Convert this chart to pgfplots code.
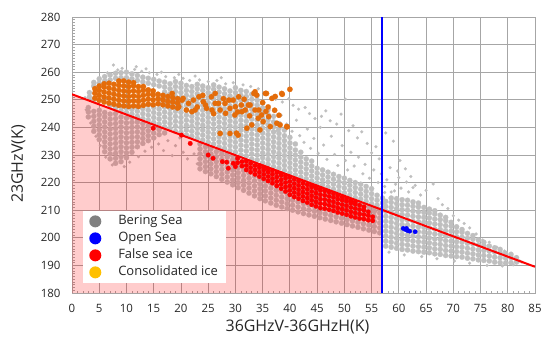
\documentclass[border=0pt]{standalone}
\usepackage{pgfplots}
\pgfplotsset{compat=1.18}
\usepackage{fontspec}
\setmainfont{Open Sans}
\definecolor{cgray}{RGB}{191,191,191}
\definecolor{corange}{RGB}{228,108,10}
\definecolor{cred}{RGB}{255,0,0}
\definecolor{cblue}{RGB}{0,0,255}
\definecolor{lgray}{RGB}{128,128,128}
\definecolor{lyellow}{RGB}{255,192,0}
\definecolor{gridc}{RGB}{166,166,166}
\definecolor{txt}{RGB}{38,38,38}
\begin{document}
\begin{tikzpicture}
\begin{axis}[
  width=463bp, height=276bp, scale only axis,
  xmin=0, xmax=85, ymin=180, ymax=280,
  xtick={0,5,...,85}, ytick={180,190,...,280},
  minor x tick num=4, minor y tick num=9,
  tick pos=left, tick align=inside,
  major tick length=0bp, minor tick length=2.5bp,
  every tick/.style={gridc, line width=0.6bp},
  grid=major, major grid style={gridc, line width=0.8bp},
  axis line style={gridc, line width=0.8bp},
  /pgf/number format/assume math mode=true,
  ticklabel style={font=\fontsize{11.5}{13}\selectfont, text=txt},
  yticklabel style={xshift=-8bp},
  xticklabel style={yshift=-8bp},
  xlabel={36GHzV-36GHzH(K)}, ylabel={23GHzV(K)},
  xlabel style={font=\fontsize{16}{18}\selectfont, text=txt, at={(axis description cs:0.487,-0.1214)}, anchor=center},
  ylabel style={font=\fontsize{16}{18}\selectfont, text=txt, at={(axis description cs:-0.1156,0.467)}, anchor=center},
  legend image code/.code={\fill[#1] (0bp,0bp) circle (6bp);},
  legend style={at={(rel axis cs:0.024,0.036)}, anchor=south west, draw=none, fill=white,
    font=\fontsize{13}{15}\selectfont, text=txt, inner xsep=6bp, inner ysep=2bp, row sep=0bp,
    nodes={text height=10bp, text depth=3bp, inner sep=2bp},
    cells={anchor=west},
    /tikz/every odd column/.append style={column sep=15bp}},
  clip=true, clip marker paths=true,
]
% ---------------- gray, dense ----------------
\addplot[only marks, mark=*, mark size=2.6bp, color=cgray, mark options={draw=cgray, fill=cgray, line width=0.2bp}, forget plot] coordinates {
(3.2,251.0)(3.2,252.6)
(4.0,250.0)(4.0,255.0)(4.0,256.3)
(5.0,256.0)(5.0,257.6)
(6.0,256.8)(6.0,258.4)
(7.0,257.2)(7.0,259.0)(7.0,248.0)
(8.0,257.8)(8.0,259.6)(8.0,247.0)
(9.0,258.0)(9.0,259.8)(9.0,246.0)(9.0,247.6)
(10.0,258.0)(10.0,260.0)(10.0,245.4)(10.0,247.0)
(11.0,257.6)(11.0,259.4)(11.0,244.8)(11.0,246.5)
(12.0,257.0)(12.0,258.8)(12.0,244.0)(12.0,245.8)(12.0,247.4)
(13.0,256.5)(13.0,258.2)(13.0,243.2)(13.0,245.0)(13.0,246.8)
(14.0,256.0)(14.0,257.8)(14.0,242.6)(14.0,244.4)(14.0,246.2)(14.0,248.0)
(15.0,255.5)(15.0,257.4)(15.0,241.8)(15.0,243.6)(15.0,245.4)(15.0,247.2)
(16.0,241.2)(16.0,243.0)(16.0,244.8)(16.0,246.6)(16.0,248.4)(16.0,250.2)(16.0,255.0)(16.0,256.8)
(17.0,240.2)(17.0,242.0)(17.0,243.8)(17.0,245.6)(17.0,247.4)(17.0,249.2)(17.0,251.0)(17.0,252.8)(17.0,254.6)(17.0,256.4)
(18.0,239.6)(18.0,241.4)(18.0,243.2)(18.0,245.0)(18.0,246.8)(18.0,248.6)(18.0,250.4)(18.0,252.2)(18.0,254.0)(18.0,255.8)
(19.0,238.6)(19.0,240.4)(19.0,242.2)(19.0,244.0)(19.0,245.8)(19.0,247.6)(19.0,249.4)(19.0,251.2)(19.0,253.0)(19.0,254.8)(19.0,256.6)
(20.0,238.2)(20.0,240.0)(20.0,241.8)(20.0,243.6)(20.0,245.4)(20.0,247.2)(20.0,249.0)(20.0,250.8)(20.0,252.6)(20.0,254.4)(20.0,256.0)
(21.0,237.2)(21.0,239.0)(21.0,240.8)(21.0,242.6)(21.0,244.4)(21.0,246.2)(21.0,248.0)(21.0,249.8)(21.0,251.6)(21.0,253.4)(21.0,255.2)
(22.0,236.8)(22.0,238.6)(22.0,240.4)(22.0,242.2)(22.0,244.0)(22.0,245.8)(22.0,247.6)(22.0,249.4)(22.0,251.2)(22.0,253.0)(22.0,254.8)
(23.0,236.0)(23.0,237.8)(23.0,239.6)(23.0,241.4)(23.0,243.2)(23.0,245.0)(23.0,246.8)(23.0,248.6)(23.0,250.4)(23.0,252.2)(23.0,254.0)(23.0,255.6)
(24.0,235.4)(24.0,237.2)(24.0,239.0)(24.0,240.8)(24.0,242.6)(24.0,244.4)(24.0,246.2)(24.0,248.0)(24.0,249.8)(24.0,251.6)(24.0,253.4)(24.0,255.0)
(25.0,234.6)(25.0,236.4)(25.0,238.2)(25.0,240.0)(25.0,241.8)(25.0,243.6)(25.0,245.4)(25.0,247.2)(25.0,249.0)(25.0,250.8)(25.0,252.6)(25.0,254.4)
(26.0,234.0)(26.0,235.8)(26.0,237.6)(26.0,239.4)(26.0,241.2)(26.0,243.0)(26.0,244.8)(26.0,246.6)(26.0,248.4)(26.0,250.2)(26.0,252.0)(26.0,253.8)(26.0,255.4)
(27.0,233.0)(27.0,234.8)(27.0,236.6)(27.0,238.4)(27.0,240.2)(27.0,242.0)(27.0,243.8)(27.0,245.6)(27.0,247.4)(27.0,249.2)(27.0,251.0)(27.0,252.8)(27.0,254.6)
(28.0,232.4)(28.0,234.2)(28.0,236.0)(28.0,237.8)(28.0,239.6)(28.0,241.4)(28.0,243.2)(28.0,245.0)(28.0,246.8)(28.0,248.6)(28.0,250.4)(28.0,252.2)(28.0,254.0)
(29.0,231.6)(29.0,233.4)(29.0,235.2)(29.0,237.0)(29.0,238.8)(29.0,240.6)(29.0,242.4)(29.0,244.2)(29.0,246.0)(29.0,247.8)(29.0,249.6)(29.0,251.4)(29.0,253.2)
(30.0,231.0)(30.0,232.8)(30.0,234.6)(30.0,236.4)(30.0,238.2)(30.0,240.0)(30.0,241.8)(30.0,243.6)(30.0,245.4)(30.0,247.2)(30.0,249.0)(30.0,250.8)(30.0,252.6)(30.0,254.4)
(31.0,230.0)(31.0,231.8)(31.0,233.6)(31.0,235.4)(31.0,237.2)(31.0,239.0)(31.0,240.8)(31.0,242.6)(31.0,244.4)(31.0,246.2)(31.0,248.0)(31.0,249.8)(31.0,251.6)(31.0,253.4)
(32.0,229.6)(32.0,231.4)(32.0,233.2)(32.0,235.0)(32.0,236.8)(32.0,238.6)(32.0,240.4)(32.0,242.2)(32.0,244.0)(32.0,245.8)(32.0,247.6)(32.0,249.4)(32.0,251.2)(32.0,253.0)
(33.0,228.6)(33.0,230.4)(33.0,232.2)(33.0,234.0)(33.0,235.8)(33.0,237.6)(33.0,239.4)(33.0,241.2)(33.0,243.0)(33.0,244.8)(33.0,246.6)(33.0,248.4)(33.0,250.2)(33.0,252.0)
(34.0,228.2)(34.0,230.0)(34.0,231.8)(34.0,233.6)(34.0,235.4)(34.0,237.2)(34.0,239.0)(34.0,240.8)(34.0,242.6)(34.0,244.4)(34.0,246.2)(34.0,248.0)(34.0,249.8)(34.0,251.6)
(35.0,227.2)(35.0,229.0)(35.0,230.8)(35.0,232.6)(35.0,234.4)(35.0,236.2)(35.0,238.0)(35.0,239.8)(35.0,241.6)(35.0,243.4)(35.0,245.2)(35.0,247.0)(35.0,248.8)
(36.0,226.6)(36.0,228.4)(36.0,230.2)(36.0,232.0)(36.0,233.8)(36.0,235.6)(36.0,237.4)(36.0,239.2)(36.0,241.0)(36.0,242.8)(36.0,244.6)(36.0,246.4)
(37.0,225.8)(37.0,227.6)(37.0,229.4)(37.0,231.2)(37.0,233.0)(37.0,234.8)(37.0,236.6)(37.0,238.4)(37.0,240.2)(37.0,242.0)(37.0,244.0)
(38.0,225.2)(38.0,227.0)(38.0,228.8)(38.0,230.6)(38.0,232.4)(38.0,234.2)(38.0,236.0)(38.0,237.8)(38.0,239.6)(38.0,241.4)
(39.0,224.4)(39.0,226.2)(39.0,228.0)(39.0,229.8)(39.0,231.6)(39.0,233.4)(39.0,235.2)(39.0,237.0)(39.0,239.0)
(40.0,223.6)(40.0,225.4)(40.0,227.2)(40.0,229.0)(40.0,230.8)(40.0,232.6)(40.0,234.4)(40.0,236.4)
(41.0,222.8)(41.0,224.6)(41.0,226.4)(41.0,228.2)(41.0,230.0)(41.0,231.8)(41.0,234.0)
(42.0,222.0)(42.0,223.8)(42.0,225.6)(42.0,227.4)(42.0,229.2)(42.0,231.0)
(43.0,221.4)(43.0,223.2)(43.0,225.0)(43.0,226.8)(43.0,228.6)
(44.0,220.6)(44.0,222.4)(44.0,224.2)(44.0,226.0)(44.0,227.8)
(45.0,219.8)(45.0,221.6)(45.0,223.4)(45.0,225.2)
(46.0,219.2)(46.0,221.0)(46.0,222.8)(46.0,224.6)
(47.0,218.4)(47.0,220.2)(47.0,222.0)(47.0,223.8)
(48.0,217.6)(48.0,219.4)(48.0,221.2)(48.0,223.0)
(49.0,216.8)(49.0,218.6)(49.0,220.4)(49.0,222.2)
(50.0,216.2)(50.0,218.0)(50.0,219.8)(50.0,221.6)
(51.0,215.4)(51.0,217.2)(51.0,219.0)(51.0,220.8)
(52.0,214.6)(52.0,216.4)(52.0,218.2)(52.0,220.0)
(53.0,214.0)(53.0,215.8)(53.0,217.6)(53.0,219.4)
(54.0,213.2)(54.0,215.0)(54.0,216.8)(54.0,218.6)
(55.0,212.4)(55.0,214.2)(55.0,216.0)(55.0,217.8)
(56.0,211.8)(56.0,213.6)(56.0,215.4)
(57.0,210.8)(57.0,212.6)(57.0,214.4)
(3.0,243.8)(3.0,245.6)(3.0,247.2)
(4.0,238.6)(4.0,240.4)(4.0,242.2)(4.0,244.0)(4.0,245.8)
(5.0,235.6)(5.0,237.4)(5.0,239.2)(5.0,241.0)(5.0,242.8)(5.0,244.6)(5.0,246.2)
(6.0,231.2)(6.0,233.0)(6.0,234.8)(6.0,236.6)(6.0,238.4)(6.0,240.2)(6.0,242.0)(6.0,243.8)(6.0,245.4)
(7.0,228.6)(7.0,230.4)(7.0,232.2)(7.0,234.0)(7.0,235.8)(7.0,237.6)(7.0,239.4)(7.0,241.2)(7.0,243.0)(7.0,244.8)
(8.0,227.0)(8.0,228.8)(8.0,230.6)(8.0,232.4)(8.0,234.2)(8.0,236.0)(8.0,237.8)(8.0,239.6)(8.0,241.4)(8.0,243.2)(8.0,245.0)
(9.0,227.6)(9.0,229.4)(9.0,231.2)(9.0,233.0)(9.0,234.8)(9.0,236.6)(9.0,238.4)(9.0,240.2)(9.0,242.0)(9.0,243.8)
(10.0,229.0)(10.0,230.8)(10.0,232.6)(10.0,234.4)(10.0,236.2)(10.0,238.0)(10.0,239.8)(10.0,241.6)(10.0,243.4)
(11.0,231.0)(11.0,232.8)(11.0,234.6)(11.0,236.4)(11.0,238.2)(11.0,240.0)(11.0,241.8)(11.0,243.6)
(12.0,233.0)(12.0,234.8)(12.0,236.6)(12.0,238.4)(12.0,240.2)(12.0,242.0)(12.0,243.4)
(13.0,234.2)(13.0,236.0)(13.0,237.8)(13.0,239.6)(13.0,241.4)
(14.0,235.2)(14.0,237.0)(14.0,238.8)(14.0,240.6)
(15.0,236.2)(15.0,238.0)(15.0,239.8)
(16.0,237.4)(16.0,239.2)
(17.0,238.0)
(23.5,225.0)(23.5,226.8)(23.5,228.6)(23.5,230.4)(23.5,232.2)(23.5,234.0)
(24.5,224.0)(24.5,225.8)(24.5,227.6)(24.5,229.4)(24.5,231.2)(24.5,233.0)
(25.5,223.2)(25.5,225.0)(25.5,226.8)(25.5,228.6)(25.5,230.4)(25.5,232.2)
(26.5,222.2)(26.5,224.0)(26.5,225.8)(26.5,227.6)(26.5,229.4)(26.5,231.2)
(27.5,221.2)(27.5,223.0)(27.5,224.8)(27.5,226.6)(27.5,228.4)(27.5,230.2)(27.5,231.4)
(28.5,220.2)(28.5,222.0)(28.5,223.8)(28.5,225.6)(28.5,227.4)(28.5,229.2)(28.5,230.6)
(29.5,219.2)(29.5,221.0)(29.5,222.8)(29.5,224.6)(29.5,226.4)(29.5,228.2)(29.5,229.8)
(30.5,218.2)(30.5,220.0)(30.5,221.8)(30.5,223.6)(30.5,225.4)(30.5,227.2)(30.5,229.0)
(31.5,217.2)(31.5,219.0)(31.5,220.8)(31.5,222.6)(31.5,224.4)(31.5,226.2)(31.5,228.0)
(32.5,216.2)(32.5,218.0)(32.5,219.8)(32.5,221.6)(32.5,223.4)(32.5,225.2)(32.5,227.0)
(33.5,215.2)(33.5,217.0)(33.5,218.8)(33.5,220.6)(33.5,222.4)(33.5,224.2)(33.5,226.0)
(34.5,214.2)(34.5,216.0)(34.5,217.8)(34.5,219.6)(34.5,221.4)(34.5,223.2)(34.5,225.0)
(35.5,213.4)(35.5,215.2)(35.5,217.0)(35.5,218.8)(35.5,220.6)(35.5,222.4)(35.5,224.2)
(36.5,212.6)(36.5,214.4)(36.5,216.2)(36.5,218.0)(36.5,219.8)(36.5,221.6)(36.5,223.4)
(37.5,211.8)(37.5,213.6)(37.5,215.4)(37.5,217.2)(37.5,219.0)(37.5,220.8)(37.5,222.6)
(38.5,211.2)(38.5,213.0)(38.5,214.8)(38.5,216.6)(38.5,218.4)(38.5,220.2)(38.5,222.0)
(39.5,210.6)(39.5,212.4)(39.5,214.2)(39.5,216.0)(39.5,217.8)(39.5,219.6)(39.5,221.4)
(40.5,210.0)(40.5,211.8)(40.5,213.6)(40.5,215.4)(40.5,217.2)(40.5,219.0)(40.5,220.8)
(41.5,209.4)(41.5,211.2)(41.5,213.0)(41.5,214.8)(41.5,216.6)(41.5,218.4)(41.5,220.2)
(42.5,208.8)(42.5,210.6)(42.5,212.4)(42.5,214.2)(42.5,216.0)(42.5,217.8)(42.5,219.6)
(43.5,208.3)(43.5,210.1)(43.5,211.9)(43.5,213.7)(43.5,215.5)(43.5,217.3)(43.5,219.1)
(44.5,207.8)(44.5,209.6)(44.5,211.4)(44.5,213.2)(44.5,215.0)(44.5,216.8)(44.5,218.6)
(45.5,207.3)(45.5,209.1)(45.5,210.9)(45.5,212.7)(45.5,214.5)(45.5,216.3)(45.5,218.0)
(46.5,206.8)(46.5,208.6)(46.5,210.4)(46.5,212.2)(46.5,214.0)(46.5,215.8)(46.5,217.2)
(47.5,206.3)(47.5,208.1)(47.5,209.9)(47.5,211.7)(47.5,213.5)(47.5,215.3)(47.5,216.6)
(48.5,205.8)(48.5,207.6)(48.5,209.4)(48.5,211.2)(48.5,213.0)(48.5,214.8)(48.5,216.0)
(49.5,205.3)(49.5,207.1)(49.5,208.9)(49.5,210.7)(49.5,212.5)(49.5,214.3)
(50.5,204.8)(50.5,206.6)(50.5,208.4)(50.5,210.2)(50.5,212.0)(50.5,213.8)
(51.5,204.3)(51.5,206.1)(51.5,207.9)(51.5,209.7)(51.5,211.5)(51.5,213.3)
(52.5,203.8)(52.5,205.6)(52.5,207.4)(52.5,209.2)(52.5,211.0)(52.5,212.8)
(53.5,203.3)(53.5,205.1)(53.5,206.9)(53.5,208.7)(53.5,210.5)(53.5,212.0)
(54.5,202.8)(54.5,204.6)(54.5,206.4)(54.5,208.2)(54.5,210.0)(54.5,211.4)
(55.5,202.3)(55.5,204.1)(55.5,205.9)(55.5,207.7)(55.5,209.5)(55.5,210.8)
(56.5,201.8)(56.5,203.6)(56.5,205.4)(56.5,207.2)(56.5,209.0)(56.5,210.2)
(57.6,197.0)(57.6,198.8)(57.6,200.6)(57.6,202.4)(57.6,204.2)(57.6,206.0)(57.6,207.8)(57.6,209.6)(57.6,211.4)(57.6,213.2)
(58.6,196.6)(58.6,198.4)(58.6,200.2)(58.6,202.0)(58.6,203.8)(58.6,205.6)(58.6,207.4)(58.6,209.2)(58.6,211.0)(58.6,212.8)(58.6,214.4)
(59.6,196.2)(59.6,198.0)(59.6,199.8)(59.6,201.6)(59.6,203.4)(59.6,205.2)(59.6,207.0)(59.6,208.8)(59.6,210.6)(59.6,212.4)(59.6,214.2)
(60.6,195.8)(60.6,197.6)(60.6,199.4)(60.6,201.2)(60.6,203.0)(60.6,204.8)(60.6,206.6)(60.6,208.4)(60.6,210.2)(60.6,212.0)(60.6,213.8)
(61.6,195.6)(61.6,197.4)(61.6,199.2)(61.6,201.0)(61.6,202.8)(61.6,204.6)(61.6,206.4)(61.6,208.2)(61.6,210.0)(61.6,211.8)(61.6,213.6)
(62.6,195.2)(62.6,197.0)(62.6,198.8)(62.6,200.6)(62.6,202.4)(62.6,204.2)(62.6,206.0)(62.6,207.8)(62.6,209.6)(62.6,211.4)(62.6,213.0)
(63.6,195.0)(63.6,196.8)(63.6,198.6)(63.6,200.4)(63.6,202.2)(63.6,204.0)(63.6,205.8)(63.6,207.6)(63.6,209.4)(63.6,211.2)(63.6,212.6)
(64.6,194.8)(64.6,196.6)(64.6,198.4)(64.6,200.2)(64.6,202.0)(64.6,203.8)(64.6,205.6)(64.6,207.4)(64.6,209.2)(64.6,211.0)
(65.6,194.6)(65.6,196.4)(65.6,198.2)(65.6,200.0)(65.6,201.8)(65.6,203.6)(65.6,205.4)(65.6,207.2)(65.6,209.0)(65.6,210.4)
(66.6,194.2)(66.6,196.0)(66.6,197.8)(66.6,199.6)(66.6,201.4)(66.6,203.2)(66.6,205.0)(66.6,206.8)(66.6,208.6)(66.6,209.8)
(67.6,194.0)(67.6,195.8)(67.6,197.6)(67.6,199.4)(67.6,201.2)(67.6,203.0)(67.6,204.8)(67.6,206.6)(67.6,208.2)
(68.6,193.6)(68.6,195.4)(68.6,197.2)(68.6,199.0)(68.6,200.8)(68.6,202.6)(68.6,204.4)(68.6,206.2)(68.6,207.4)
(69.6,193.4)(69.6,195.2)(69.6,197.0)(69.6,198.8)(69.6,200.6)(69.6,202.4)(69.6,204.2)(69.6,205.6)
(70.6,193.2)(70.6,195.0)(70.6,196.8)(70.6,198.6)(70.6,200.4)(70.6,202.2)(70.6,204.0)
(71.6,193.0)(71.6,194.8)(71.6,196.6)(71.6,198.4)(71.6,200.2)(71.6,202.0)(71.6,203.0)
(72.6,192.6)(72.6,194.4)(72.6,196.2)(72.6,198.0)(72.6,199.8)(72.6,201.6)
(73.6,192.4)(73.6,194.2)(73.6,196.0)(73.6,197.8)(73.6,199.6)(73.6,200.8)
(74.6,192.0)(74.6,193.8)(74.6,195.6)(74.6,197.4)(74.6,199.2)
(75.6,191.8)(75.6,193.6)(75.6,195.4)(75.6,197.2)(75.6,198.4)
(76.6,191.6)(76.6,193.4)(76.6,195.2)(76.6,197.0)
(77.6,191.2)(77.6,193.0)(77.6,194.8)(77.6,196.4)
(78.6,191.0)(78.6,192.8)(78.6,194.6)(78.6,195.8)
(79.6,190.8)(79.6,192.6)(79.6,194.4)
(80.6,191.0)(80.6,192.8)(80.6,194.0)
(81.6,191.2)(81.6,192.8)
};
% ---------------- gray, sparse ----------------
\addplot[only marks, mark=*, mark size=1.5bp, color=cgray, mark options={draw=cgray, fill=cgray, line width=0.2bp}, forget plot] coordinates {
(6.5,259.8)(7.6,262.6)(9.2,261.4)(8.4,260.8)(11.5,261.0)(12.8,260.3)(14.2,259.8)(15.6,259.2)(17.2,258.4)(18.8,258.0)
(20.4,257.8)(21.6,257.0)(23.4,257.2)(25.0,256.6)(26.6,257.0)(28.2,255.8)(29.6,256.2)(31.4,255.4)(32.8,254.8)(34.2,254.0)
(35.6,252.8)(36.8,251.0)(37.4,250.2)(38.6,249.2)(39.8,250.4)(40.6,248.0)(41.6,246.6)(42.8,247.2)(43.6,245.0)(44.6,243.2)
(45.8,244.0)(46.6,246.0)(47.4,242.4)(48.6,241.2)(49.4,244.8)(50.2,250.2)(50.8,238.8)(51.6,240.6)(52.4,236.2)(53.2,238.4)
(54.2,234.2)(55.0,230.8)(55.8,233.0)(56.4,228.6)(57.6,238.0)(59.0,235.0)(58.4,225.4)(60.2,228.0)(61.2,225.0)(37.6,238.8)
(38.4,244.4)(39.4,241.2)(40.4,238.6)(41.2,242.6)(41.8,237.0)(42.6,234.6)(43.2,239.4)(43.8,232.4)(44.4,236.0)(45.2,230.6)
(45.6,240.0)(46.2,233.6)(46.8,228.4)(47.6,236.8)(48.2,230.2)(48.8,226.2)(49.6,233.4)(50.2,228.0)(50.6,224.6)(51.2,231.0)
(51.8,226.0)(52.6,229.2)(53.4,223.2)(53.8,226.6)(54.6,221.6)(55.4,224.6)(56.2,220.0)(56.8,223.2)(57.4,218.6)(57.8,221.0)
(58.6,216.6)(59.4,219.4)(60.4,218.0)(61.4,220.2)(62.6,218.2)(63.0,219.0)(64.0,215.5)(65.0,217.2)(66.3,219.5)(67.2,214.2)
(68.0,212.0)(69.0,210.6)(70.0,208.0)(71.0,206.4)(72.0,205.2)(73.0,203.6)(74.2,201.4)(75.4,199.2)(76.6,198.4)(78.0,196.6)
(79.4,195.2)(80.6,194.4)(81.6,192.6)(82.2,191.6)(60.0,221.8)(62.2,222.2)(59.8,224.2)(57.4,216.4)(59.2,217.0)(61.8,216.6)
(58.2,194.8)(61.0,193.8)(64.2,193.2)(67.0,192.4)(70.2,191.6)(73.0,190.8)(76.2,190.0)(79.0,189.8)(82.6,191.2)(81.0,190.2)
(15.9,234.0)(16.8,231.6)(17.6,235.2)(18.4,229.8)(19.0,233.4)(19.8,236.2)(20.4,231.0)(21.2,228.6)(21.8,233.8)(22.4,230.4)
(23.0,226.8)(23.6,232.6)(13.4,231.4)(12.2,229.4)(14.6,232.8)(10.6,227.4)(9.6,225.8)(2.4,250.8)(2.6,246.4)(3.4,241.6)
(4.4,236.8)(5.2,233.4)(6.2,229.2)(7.4,226.4)(11.8,262.0)(13.6,261.2)(16.4,260.0)(19.6,259.2)(22.6,258.6)(27.4,258.0)
};
% ---------------- pink region ----------------
\addplot[draw=none, fill=red, fill opacity=0.2, forget plot] coordinates {(0,180) (0,252) (57,210.09) (57,180)};
% ---------------- red: false sea ice ----------------
\addplot[only marks, mark=*, mark size=2.3bp, color=cred, mark options={draw=cred, fill=cred, line width=0.2bp}, forget plot] coordinates {
(14.9,239.7)(20.1,237.2)(21.7,234.2)(25.0,230.0)(25.9,228.8)(27.6,227.6)(28.4,227.4)(28.7,225.2)(29.6,227.0)(30.0,225.8)
(30.4,227.2)(30.4,228.8)
(31.2,226.0)(31.2,227.6)
(32.0,224.6)(32.0,226.2)(32.0,227.8)
(32.8,223.8)(32.8,225.4)(32.8,227.0)
(33.6,223.0)(33.6,224.6)(33.6,226.2)
(34.4,222.2)(34.4,223.8)(34.4,225.4)(34.4,226.2)
(35.2,221.4)(35.2,223.0)(35.2,224.6)(35.2,225.6)
(36.0,220.6)(36.0,222.2)(36.0,223.8)(36.0,225.0)
(36.8,219.8)(36.8,221.4)(36.8,223.0)(36.8,224.4)
(37.6,218.8)(37.6,220.4)(37.6,222.0)(37.6,223.6)
(38.4,217.8)(38.4,219.4)(38.4,221.0)(38.4,222.6)(38.4,223.2)
(39.2,216.8)(39.2,218.4)(39.2,220.0)(39.2,221.6)(39.2,222.6)
(40.0,215.6)(40.0,217.2)(40.0,218.8)(40.0,220.4)(40.0,222.0)
(40.8,214.8)(40.8,216.4)(40.8,218.0)(40.8,219.6)(40.8,221.2)
(41.6,214.2)(41.6,215.8)(41.6,217.4)(41.6,219.0)(41.6,220.6)
(42.4,213.4)(42.4,215.0)(42.4,216.6)(42.4,218.2)(42.4,219.8)
(43.2,212.8)(43.2,214.4)(43.2,216.0)(43.2,217.6)(43.2,219.2)
(44.0,212.0)(44.0,213.6)(44.0,215.2)(44.0,216.8)(44.0,218.4)(44.0,219.0)
(44.8,211.4)(44.8,213.0)(44.8,214.6)(44.8,216.2)(44.8,217.8)(44.8,218.4)
(45.6,210.8)(45.6,212.4)(45.6,214.0)(45.6,215.6)(45.6,217.2)(45.6,217.9)
(46.4,210.6)(46.4,212.2)(46.4,213.8)(46.4,215.4)(46.4,217.0)
(47.2,210.2)(47.2,211.8)(47.2,213.4)(47.2,215.0)(47.2,216.6)
(48.0,209.8)(48.0,211.4)(48.0,213.0)(48.0,214.6)(48.0,216.0)
(48.8,209.2)(48.8,210.8)(48.8,212.4)(48.8,214.0)(48.8,215.4)
(49.6,208.8)(49.6,210.4)(49.6,212.0)(49.6,213.6)(49.6,214.8)
(50.4,208.4)(50.4,210.0)(50.4,211.6)(50.4,213.2)(50.4,214.2)
(51.2,207.8)(51.2,209.4)(51.2,211.0)(51.2,212.6)(51.2,213.6)
(52.0,207.4)(52.0,209.0)(52.0,210.6)(52.0,212.2)(52.0,213.0)
(52.8,207.0)(52.8,208.6)(52.8,210.2)(52.8,211.8)
(53.6,206.8)(53.6,208.4)(53.6,210.0)(53.6,211.2)
(54.4,206.4)(54.4,208.0)(54.4,209.4)
(55.2,206.2)(55.2,207.6)
};
% ---------------- orange: consolidated ice ----------------
\addplot[only marks, mark=*, mark size=2.7bp, color=corange, mark options={draw=corange, fill=corange, line width=0.2bp}, forget plot] coordinates {
(4.2,250.6)(4.2,252.4)(4.2,254.0)
(5.0,249.8)(5.0,251.6)(5.0,253.4)(5.0,255.0)
(5.9,249.2)(5.9,251.0)(5.9,252.8)(5.9,254.6)(5.9,255.8)
(6.8,248.8)(6.8,250.6)(6.8,252.4)(6.8,254.2)(6.8,256.0)
(7.7,248.4)(7.7,250.2)(7.7,252.0)(7.7,253.8)(7.7,255.6)
(8.6,248.0)(8.6,249.8)(8.6,251.6)(8.6,253.4)(8.6,255.2)(8.6,256.8)
(9.5,247.8)(9.5,249.6)(9.5,251.4)(9.5,253.2)(9.5,255.0)(9.5,256.8)
(10.4,247.6)(10.4,249.4)(10.4,251.2)(10.4,253.0)(10.4,254.8)(10.4,256.4)
(11.3,247.8)(11.3,249.6)(11.3,251.4)(11.3,253.2)(11.3,255.0)(11.3,256.2)
(12.2,247.6)(12.2,249.4)(12.2,251.2)(12.2,253.0)(12.2,254.8)
(13.1,248.0)(13.1,249.8)(13.1,251.6)(13.1,253.4)(13.1,254.8)
(14.0,248.4)(14.0,250.2)(14.0,252.0)(14.0,253.6)
(14.9,248.2)(14.9,250.0)(14.9,251.8)(14.9,253.2)
(15.8,248.6)(15.8,250.4)(15.8,252.0)
(16.7,248.2)(16.7,250.0)(16.7,251.6)
(17.6,247.8)(17.6,249.4)(17.6,251.2)
(18.5,247.4)(18.5,249.2)(18.5,250.8)
(19.4,247.0)(19.4,248.8)(19.4,250.4)
(18.4,252.3)(20.2,249.9)(19.6,247.5)(21.4,248.7)(23.3,251.1)(22.0,245.7)(24.5,248.1)(25.7,246.3)(26.3,252.3)(26.9,248.7)
(28.2,245.1)(28.8,249.9)(30.0,247.5)(30.6,251.1)(31.2,245.7)(32.4,248.1)(33.4,252.3)(34.3,246.3)(35.5,252.3)(36.1,243.9)
(20.4,250.5)(21.0,246.3)(22.3,249.9)(22.6,246.3)(24.1,249.3)(24.7,246.9)(25.6,251.1)(26.3,248.7)(27.2,246.3)(28.1,248.7)
(29.0,246.9)(29.6,249.9)(29.9,244.5)(31.1,248.1)(31.8,246.3)(32.7,248.1)(33.6,252.9)(33.9,251.7)(33.6,246.3)(34.2,243.3)
(35.1,242.1)(35.7,252.3)(36.7,250.5)(36.4,240.3)(37.6,241.5)(38.2,240.9)(39.4,240.3)(38.5,252.3)(40.0,253.8)(32.1,239.7)
(33.0,240.9)(34.5,239.1)(27.2,237.8)(29.0,237.8)(30.5,237.2)(34.8,244.5)(30.2,237.9)(38.6,252.0)(37.3,251.2)(39.5,240.2)
(23.0,247.4)(24.0,251.6)(26.0,245.0)(27.8,250.4)(30.4,245.6)(31.6,250.2)(32.6,244.2)(35.0,249.0)(36.0,247.4)(37.2,246.2)
(38.0,244.4)(35.6,245.8)
};
% ---------------- blue: open sea ----------------
\addplot[only marks, mark=*, mark size=2.2bp, color=cblue, mark options={draw=cblue, fill=cblue, line width=0.2bp}, forget plot] coordinates {
(60.8,203.4)(61.2,203.0)(61.6,202.6)(61.4,203.4)(62.0,202.4)(63.0,202.2)
};
% ---------------- lines ----------------
\addplot[cred, line width=2bp, forget plot] coordinates {(0,252) (85,189.5)};
\addplot[cblue, line width=2bp, forget plot] coordinates {(57,180) (57,280)};
% ---------------- legend ----------------
\addlegendimage{draw=none, fill=lgray}
\addlegendentry{Bering Sea}
\addlegendimage{draw=none, fill=cblue}
\addlegendentry{Open Sea}
\addlegendimage{draw=none, fill=cred}
\addlegendentry{False sea ice}
\addlegendimage{draw=none, fill=lyellow}
\addlegendentry{Consolidated ice}
\coordinate (bl) at (rel axis cs:0,0);
\coordinate (tr) at (rel axis cs:1,1);
\end{axis}
\pgfresetboundingbox
\path ([xshift=-72bp,yshift=-45bp]bl) rectangle ([xshift=9bp,yshift=17bp]tr);
\end{tikzpicture}
\end{document}
